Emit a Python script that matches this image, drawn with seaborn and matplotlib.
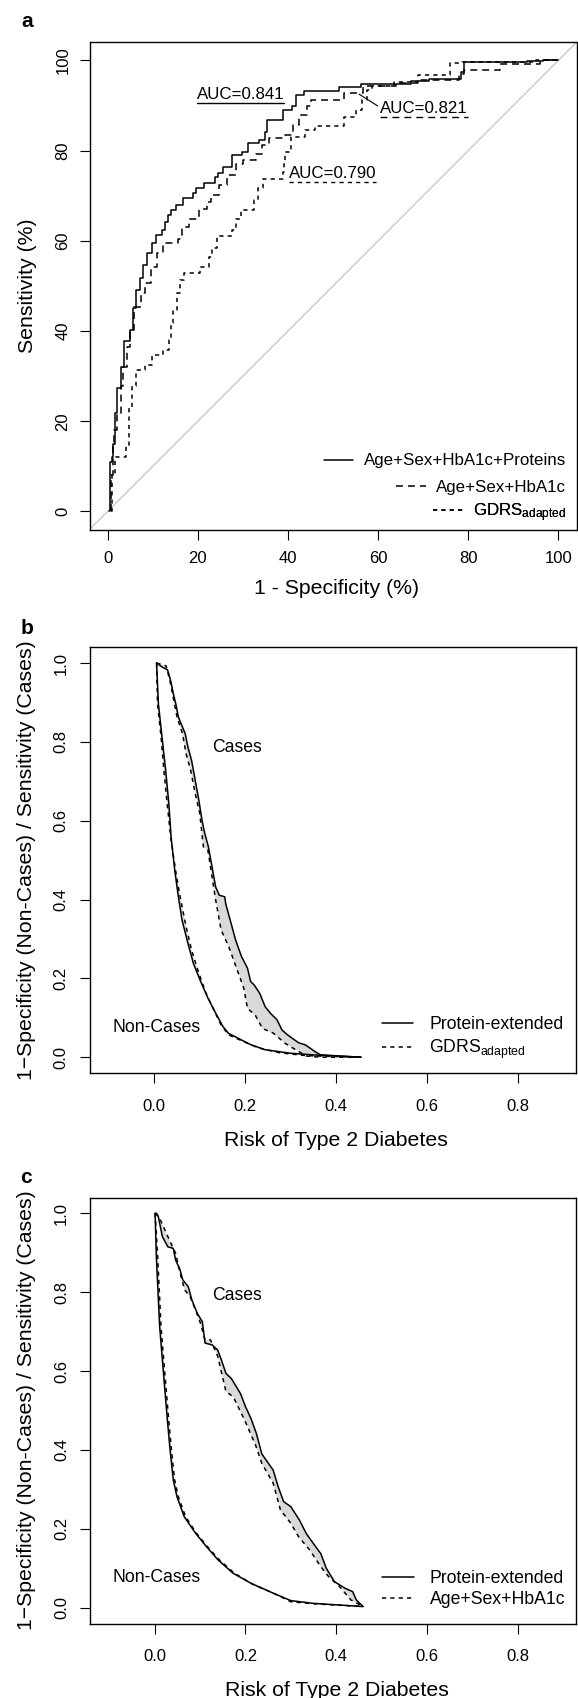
import numpy as np
import pandas as pd
import matplotlib
matplotlib.use("Agg")
import matplotlib.pyplot as plt
from matplotlib.ticker import FormatStrFormatter
import seaborn as sns

# ---------------- data ----------------
# Panel a: ROC curves, 1 - specificity (%) vs sensitivity (%)
roc_labels = ["Age+Sex+HbA1c+Proteins", "Age+Sex+HbA1c", r"GDRS$_{\mathrm{adapted}}$"]
fpr_full = [0.4, 0.5, 1.0, 1.2, 1.6, 2.1, 2.9, 3.7, 5.0, 5.6, 6.4, 7.1, 7.9, 8.7, 9.9,
            10.7, 12.0, 12.8, 13.4, 14.0, 15.2, 16.7, 18.9, 19.7, 21.4, 23.9, 24.5, 25.5,
            27.5, 27.7, 29.9, 31.2, 33.7, 34.9, 35.3, 39.0, 41.0, 41.9, 43.5, 51.3, 56.2,
            67.3, 71.4, 78.3, 79.1, 93.0, 96.5, 100]
tpr_full = [0, 11, 12, 15, 21.8, 27.3, 32.1, 37.7, 40.3, 45.1, 49.1, 51.7, 54.6, 57.2, 59.4,
            61.3, 62.4, 64.2, 65.7, 66.9, 67.9, 69.4, 70.5, 71.8, 72.7, 74.2, 75.1, 76.4,
            77.5, 79.0, 79.7, 81.6, 82.3, 84.2, 86.7, 89.0, 89.9, 92.3, 93.3, 94.0, 94.7,
            95.4, 95.8, 97.5, 99.6, 99.8, 100, 100]
fpr_base = [0.7, 0.8, 1.2, 1.5, 2.1, 2.9, 3.5, 4.3, 5.0, 5.8, 7.5, 8.3, 9.7, 11.0, 12.4,
            15.6, 16.5, 18.1, 20.2, 22.0, 23.0, 24.7, 26.5, 28.4, 30.0, 33.0, 34.3, 35.7,
            39.4, 41.1, 42.5, 44.3, 45.2, 52.5, 56.6, 64.0, 69.0, 78.0, 79.0, 87.0, 96.0, 100]
tpr_base = [0, 8, 15, 18, 21.8, 27.7, 32.1, 36.5, 40.3, 45.4, 48.4, 50.6, 54.3, 57.2, 59.4,
            60.5, 63.1, 64.9, 67.1, 68.6, 70.1, 72.3, 74.5, 77.1, 78.0, 79.3, 81.2, 82.7,
            83.5, 85.7, 87.9, 89.8, 91.3, 92.8, 94.4, 94.9, 95.6, 97.0, 97.8, 99.3, 100, 100]
fpr_gdrs = [0.8, 1.0, 1.7, 4.2, 4.7, 5.4, 6.4, 8.2, 9.9, 12.4, 13.6, 14.0, 14.6, 15.3, 16.1,
            16.9, 20.6, 22.6, 23.2, 24.3, 27.5, 28.4, 29.6, 32.4, 33.3, 34.5, 39.0, 39.2,
            39.4, 40.6, 43.9, 46.0, 52.5, 55.0, 56.5, 57.6, 58.7, 63.6, 68.9, 75.9, 78.5,
            95.0, 100]
tpr_gdrs = [0, 8, 12, 14.4, 22.9, 27.7, 31.4, 32.5, 34.7, 35.9, 38.1, 41.8, 44.7, 48.4, 51.3,
            52.8, 54.3, 56.5, 58.4, 61.0, 62.4, 64.9, 66.8, 69.0, 71.6, 73.8, 75.3, 77.1,
            79.7, 83.0, 84.5, 85.4, 87.5, 89.0, 91.3, 93.5, 94.4, 95.3, 96.8, 99.4, 99.7,
            100, 100]
auc_labels = ["AUC=0.841", "AUC=0.821", "AUC=0.790"]
a_ticks = [0, 20, 40, 60, 80, 100]

# Panel b: Protein-extended vs GDRS adapted
b_labels = ["Protein-extended", r"GDRS$_{\mathrm{adapted}}$"]
b_case_x_pe = [0.005, 0.017, 0.029, 0.035, 0.042, 0.048, 0.053, 0.059, 0.068, 0.074, 0.082,
               0.090, 0.098, 0.105, 0.111, 0.119, 0.127, 0.135, 0.143, 0.155, 0.157, 0.167,
               0.179, 0.192, 0.205, 0.212, 0.220, 0.232, 0.244, 0.256, 0.270, 0.281, 0.293,
               0.317, 0.333, 0.354, 0.366, 0.455]
b_case_y_pe = [1.0, 0.990, 0.983, 0.960, 0.922, 0.893, 0.863, 0.846, 0.821, 0.787, 0.753,
               0.703, 0.652, 0.601, 0.568, 0.534, 0.483, 0.432, 0.411, 0.407, 0.390, 0.348,
               0.297, 0.255, 0.226, 0.192, 0.183, 0.162, 0.128, 0.111, 0.095, 0.069, 0.057,
               0.037, 0.031, 0.014, 0.006, 0.0]
b_case_x_gd = [0.005, 0.026, 0.035, 0.050, 0.062, 0.070, 0.080, 0.090, 0.100, 0.108, 0.118,
               0.127, 0.135, 0.147, 0.164, 0.180, 0.197, 0.205, 0.222, 0.238, 0.262, 0.287,
               0.311, 0.335, 0.366, 0.455]
b_case_y_gd = [1.0, 0.993, 0.952, 0.863, 0.821, 0.770, 0.728, 0.669, 0.618, 0.534, 0.525,
               0.458, 0.399, 0.323, 0.280, 0.229, 0.175, 0.124, 0.107, 0.073, 0.061, 0.036,
               0.019, 0.003, 0.0, 0.0]
b_non_x_pe = [0.005, 0.009, 0.017, 0.025, 0.032, 0.037, 0.045, 0.053, 0.061, 0.074, 0.086,
              0.102, 0.118, 0.135, 0.151, 0.163, 0.188, 0.212, 0.244, 0.301, 0.350, 0.455]
b_non_y_pe = [1.0, 0.897, 0.812, 0.728, 0.643, 0.558, 0.474, 0.407, 0.348, 0.289, 0.238,
              0.192, 0.150, 0.112, 0.078, 0.061, 0.046, 0.032, 0.019, 0.010, 0.006, 0.0]
b_non_x_gd = [0.005, 0.007, 0.015, 0.021, 0.029, 0.037, 0.048, 0.058, 0.070, 0.082, 0.098,
              0.114, 0.131, 0.147, 0.163, 0.196, 0.228, 0.277, 0.335, 0.455]
b_non_y_gd = [1.0, 0.897, 0.812, 0.728, 0.635, 0.550, 0.465, 0.400, 0.331, 0.272, 0.213,
              0.162, 0.120, 0.082, 0.057, 0.040, 0.024, 0.011, 0.004, 0.0]

# Panel c: Protein-extended vs Age+Sex+HbA1c
c_labels = ["Protein-extended", "Age+Sex+HbA1c"]
c_case_x_pe = [0.001, 0.004, 0.008, 0.017, 0.029, 0.041, 0.046, 0.056, 0.062, 0.074, 0.082,
               0.094, 0.105, 0.111, 0.127, 0.139, 0.147, 0.157, 0.169, 0.180, 0.189, 0.200,
               0.212, 0.224, 0.236, 0.261, 0.272, 0.284, 0.300, 0.319, 0.334, 0.350, 0.366,
               0.378, 0.396, 0.420, 0.436, 0.444, 0.459]
c_case_y_pe = [1.0, 1.0, 0.992, 0.941, 0.915, 0.911, 0.882, 0.856, 0.831, 0.814, 0.780,
               0.746, 0.725, 0.671, 0.666, 0.653, 0.628, 0.594, 0.581, 0.560, 0.543, 0.510,
               0.480, 0.442, 0.390, 0.349, 0.307, 0.269, 0.256, 0.222, 0.188, 0.162, 0.137,
               0.100, 0.066, 0.049, 0.041, 0.020, 0.003]
c_case_x_ba = [0.001, 0.010, 0.021, 0.029, 0.046, 0.058, 0.066, 0.078, 0.090, 0.101, 0.111,
               0.123, 0.139, 0.157, 0.173, 0.198, 0.222, 0.236, 0.261, 0.277, 0.300, 0.317,
               0.341, 0.366, 0.383, 0.407, 0.432, 0.459]
c_case_y_ba = [1.0, 0.990, 0.962, 0.941, 0.899, 0.840, 0.806, 0.789, 0.755, 0.721, 0.679,
               0.679, 0.637, 0.548, 0.535, 0.476, 0.413, 0.366, 0.316, 0.248, 0.214, 0.180,
               0.147, 0.104, 0.079, 0.054, 0.020, 0.003]
c_non_x_pe = [0.001, 0.004, 0.011, 0.020, 0.028, 0.034, 0.041, 0.049, 0.065, 0.090, 0.114,
              0.139, 0.172, 0.212, 0.261, 0.300, 0.350, 0.459]
c_non_y_pe = [1.0, 0.882, 0.713, 0.586, 0.476, 0.400, 0.324, 0.282, 0.231, 0.189, 0.155,
              0.122, 0.088, 0.062, 0.037, 0.018, 0.011, 0.003]
c_non_x_ba = [0.001, 0.007, 0.014, 0.023, 0.031, 0.037, 0.044, 0.052, 0.068, 0.092, 0.116,
              0.142, 0.175, 0.215, 0.265, 0.300, 0.350, 0.459]
c_non_y_ba = [1.0, 0.882, 0.713, 0.586, 0.476, 0.400, 0.324, 0.282, 0.231, 0.189, 0.155,
              0.122, 0.088, 0.060, 0.035, 0.015, 0.010, 0.003]

group_labels = ["Cases", "Non-Cases"]
bc_xticks = [0.0, 0.2, 0.4, 0.6, 0.8]
bc_yticks = [0.0, 0.2, 0.4, 0.6, 0.8, 1.0]

# ---------------- style ----------------
sns.set_theme(style="ticks")
plt.rcParams.update({
    "font.family": ["Liberation Sans", "DejaVu Sans"],
    "mathtext.fontset": "custom",
    "mathtext.rm": "Liberation Sans",
    "mathtext.it": "Liberation Sans:italic",
    "mathtext.bf": "Liberation Sans:bold",
    "lines.scale_dashes": False,
    "axes.edgecolor": "black",
    "axes.linewidth": 1.0,
    "xtick.color": "black",
    "ytick.color": "black",
    "text.color": "black",
    "axes.labelcolor": "black",
    "axes.facecolor": "white",
    "figure.facecolor": "white",
})

SOLID = "-"
DASHED = (0, (5.0, 3.6))
DOTTED = (0, (3.0, 3.0))
GREY_FILL = "#d9d9d9"
TICK_FS = 12
TEXT_FS_A = 12.2
TEXT_FS_BC = 12.7
LABEL_FS = 15.3

W, H = 578, 1698
fig = plt.figure(figsize=(W / 100, H / 100), dpi=100)


def rect(l, t, r, b):
    return [l / W, 1 - b / H, (r - l) / W, (b - t) / H]


def line(ax, x, y, ls, drawstyle="default", lw=1.1):
    df = pd.DataFrame({"x": x, "y": y})
    sns.lineplot(data=df, x="x", y="y", ax=ax, color="black", lw=lw, linestyle=ls,
                 estimator=None, sort=False, drawstyle=drawstyle, legend=False, zorder=3)
    return ax.lines[-1]


def style_axis(ax, xlim, ylim, xticks, yticks, xpad, ypad, fmt=None):
    ax.set_xlim(*xlim)
    ax.set_ylim(*ylim)
    ax.set_xticks(xticks)
    ax.set_yticks(yticks)
    if fmt:
        ax.xaxis.set_major_formatter(FormatStrFormatter(fmt))
        ax.yaxis.set_major_formatter(FormatStrFormatter(fmt))
    ax.tick_params(axis="both", direction="out", length=7.2, width=0.8,
                   labelsize=TICK_FS, colors="black")
    ax.tick_params(axis="x", pad=xpad)
    ax.tick_params(axis="y", pad=ypad, labelrotation=90)
    for lab in ax.get_yticklabels():
        lab.set_va("center")
    for sp in ax.spines.values():
        sp.set_visible(True)
        sp.set_color("black")
        sp.set_linewidth(1.0)
    ax.set_xlabel("")
    ax.set_ylabel("")


# ---------------- panel a ----------------
ax_a = fig.add_axes(rect(89.5, 42.3, 576.5, 529.5))
ax_a.axline((0, 0), (1, 1), color="#bebebe", lw=0.8, zorder=1)
h_full = line(ax_a, fpr_full, tpr_full, SOLID, "steps-post")
h_base = line(ax_a, fpr_base, tpr_base, DASHED, "steps-post")
h_gdrs = line(ax_a, fpr_gdrs, tpr_gdrs, DOTTED, "steps-post")
style_axis(ax_a, (-4, 104), (-4, 104), a_ticks, a_ticks, xpad=8.6, ypad=6.5)
ax_a.set_xlabel("1 - Specificity (%)", fontsize=LABEL_FS, va="center")
ax_a.xaxis.set_label_coords(0.507, -0.122)
ax_a.set_ylabel("Sensitivity (%)", fontsize=LABEL_FS, va="center")
ax_a.yaxis.set_label_coords(-0.127, 0.5)

auc_pos = [(19.8, 91.36), (60.5, 88.26), (40.2, 73.86)]
auc_styles = [SOLID, DASHED, DOTTED]
auc_texts = [ax_a.text(px, py, lab, fontsize=TEXT_FS_A, ha="left", va="baseline")
             for (px, py), lab in zip(auc_pos, auc_labels)]
ax_a.annotate("", xy=(55.8, 92.5), xytext=(59.9, 89.9),
              arrowprops=dict(arrowstyle="-", color="black", lw=0.8,
                              shrinkA=0, shrinkB=0))

for h, lab, yc in zip([h_full, h_base, h_gdrs], roc_labels, [0.1406, 0.0866, 0.0345]):
    leg = ax_a.legend([h], [lab], loc="center right", bbox_to_anchor=(0.978, yc),
                      frameon=False, borderpad=0, borderaxespad=0, handlelength=1.75,
                      handletextpad=0.6, fontsize=TEXT_FS_A)
    ax_a.add_artist(leg)


# ---------------- panels b and c ----------------
def risk_panel(ax, cases_a, cases_b, non_a, non_b, ls_b, labels, ylabel_x,
               cases_pos, non_pos):
    for (xa, ya), (xb, yb) in [(cases_a, cases_b), (non_a, non_b)]:
        ax.fill(np.r_[xa, xb[::-1]], np.r_[ya, yb[::-1]], color=GREY_FILL, lw=0, zorder=1)
    h1 = line(ax, cases_a[0], cases_a[1], SOLID)
    h2 = line(ax, cases_b[0], cases_b[1], ls_b)
    line(ax, non_a[0], non_a[1], SOLID)
    line(ax, non_b[0], non_b[1], ls_b)
    style_axis(ax, (-0.1424, 0.9287), (-0.04, 1.04), bc_xticks, bc_yticks,
               xpad=11.4, ypad=7.8, fmt="%.1f")
    ax.set_xlabel("Risk of Type 2 Diabetes", fontsize=LABEL_FS, va="center")
    ax.xaxis.set_label_coords(0.507, -0.1574)
    ax.set_ylabel("1\u2212Specificity (Non-Cases) / Sensitivity (Cases)",
                  fontsize=LABEL_FS, va="center")
    ax.yaxis.set_label_coords(ylabel_x, 0.5)
    ax.text(cases_pos[0], cases_pos[1], group_labels[0], fontsize=TEXT_FS_BC,
            ha="left", va="baseline")
    ax.text(non_pos[0], non_pos[1], group_labels[1], fontsize=TEXT_FS_BC,
            ha="left", va="baseline")
    ax.legend([h1, h2], labels, loc="center left", bbox_to_anchor=(0.5998, 0.081),
              frameon=False, borderpad=0, borderaxespad=0, handlelength=1.81,
              handletextpad=0.9, labelspacing=0.25, fontsize=TEXT_FS_BC)


ax_b = fig.add_axes(rect(89.6, 647.3, 576.3, 1073.0))
risk_panel(ax_b,
           (np.array(b_case_x_pe), np.array(b_case_y_pe)),
           (np.array(b_case_x_gd), np.array(b_case_y_gd)),
           (np.array(b_non_x_pe), np.array(b_non_y_pe)),
           (np.array(b_non_x_gd), np.array(b_non_y_gd)),
           DOTTED, b_labels, -0.129, (0.127, 0.774), (-0.092, 0.0634))

ax_c = fig.add_axes(rect(90.0, 1197.5, 576.3, 1623.5))
risk_panel(ax_c,
           (np.array(c_case_x_pe), np.array(c_case_y_pe)),
           (np.array(c_case_x_ba), np.array(c_case_y_ba)),
           (np.array(c_non_x_pe), np.array(c_non_y_pe)),
           (np.array(c_non_x_ba), np.array(c_non_y_ba)),
           DOTTED, c_labels, -0.130, (0.127, 0.779), (-0.092, 0.0649))

# panel letters
for letter, (lx, ly) in zip("abc", [(21.7, 26.7), (20.7, 634.3), (20.0, 1182.7)]):
    fig.text(lx / W, 1 - ly / H, letter, fontsize=15, fontweight="bold",
             ha="left", va="baseline")

# underlines beneath the AUC annotations, matched to the text extents
fig.canvas.draw()
inv = ax_a.transData.inverted()
for t, ls in zip(auc_texts, auc_styles):
    bb = t.get_window_extent()
    x0, y0 = inv.transform((bb.x0, bb.y0 - 0.5))
    x1, _ = inv.transform((bb.x1, bb.y0 - 0.5))
    ax_a.plot([x0, x1], [y0, y0], color="black", lw=1.0, linestyle=ls)

fig.savefig("out.png", dpi=100)
